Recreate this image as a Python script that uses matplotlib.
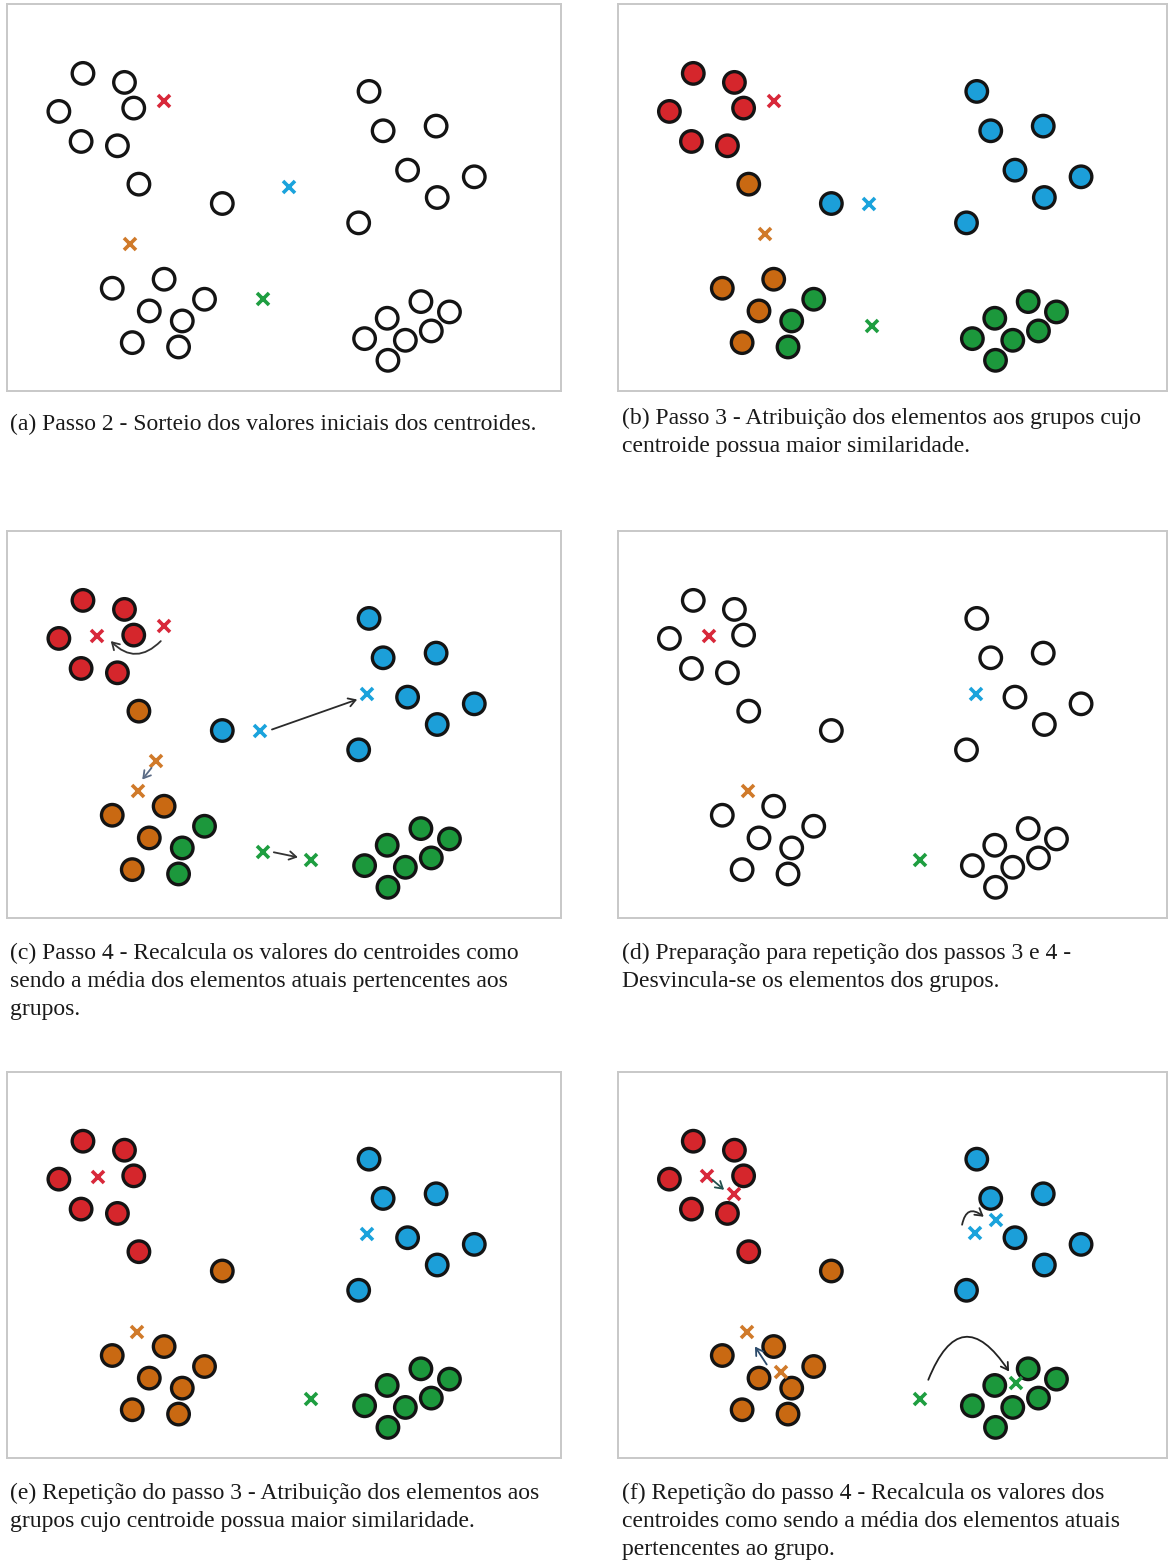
import matplotlib
matplotlib.use("Agg")
import matplotlib.pyplot as plt
from matplotlib.patches import FancyArrowPatch

W, H = 1169, 1560

# element positions (x right, y down, same frame in every panel)
elem_x = [225, 337, 160, 362, 220, 318, 376, 601,
          997, 1035, 1178, 1101, 1281, 1181, 969,
          304, 444, 404, 553, 493, 358, 483,
          1137, 1046, 1214, 1165, 1095, 985, 1048]
elem_y = [218, 245, 332, 322, 422, 435, 550, 608,
          272, 390, 376, 508, 528, 590, 666,
          862, 835, 930, 895, 960, 1025, 1038,
          902, 952, 933, 990, 1018, 1013, 1078]

# group of every element: 0 red, 1 blue, 2 orange, 3 green
groups_first = [0, 0, 0, 0, 0, 0, 2, 1,
                1, 1, 1, 1, 1, 1, 1,
                2, 2, 2, 3, 3, 2, 3,
                3, 3, 3, 3, 3, 3, 3]
groups_second = [0, 0, 0, 0, 0, 0, 0, 2,
                 1, 1, 1, 1, 1, 1, 1,
                 2, 2, 2, 2, 2, 2, 2,
                 3, 3, 3, 3, 3, 3, 3]

# centroids per panel, order red, blue, orange, green
cent_a = [(445, 300), (781, 560), (351, 730), (712, 893)]
cent_b = [(445, 300), (703, 610), (420, 700), (712, 975)]
cent_c_old = [(445, 295), (703, 608), (423, 700), (711, 972)]
cent_c_new = [(263, 325), (992, 500), (373, 788), (840, 995)]
cent_d = [(267, 325), (995, 498), (375, 790), (843, 995)]
cent_e = [(265, 325), (992, 497), (372, 790), (840, 993)]
cent_f_old = [(263, 323), (993, 495), (372, 790), (842, 993)]
cent_f_new = [(337, 377), (1050, 455), (465, 912), (1103, 945)]

# arrows: tail x, tail y, head x, head y, curvature
arrows_c = [(435, 340, 300, 340, -0.5), (735, 605, 965, 515, 0),
            (410, 720, 385, 755, 0), (740, 973, 805, 988, 0)]
arrows_f = [(277, 334, 309, 364, 0), (957, 469, 1016, 445, -0.8),
            (425, 889, 393, 835, 0), (865, 935, 1085, 910, -0.95)]

captions = [
    "(a) Passo 2 - Sorteio dos valores iniciais dos centroides.",
    "(b) Passo 3 - Atribuição dos elementos aos grupos cujo\ncentroide possua maior similaridade.",
    "(c) Passo 4 - Recalcula os valores do centroides como\nsendo a média dos elementos atuais pertencentes aos\ngrupos.",
    "(d) Preparação para repetição dos passos 3 e 4 -\nDesvincula-se os elementos dos grupos.",
    "(e) Repetição do passo 3 - Atribuição dos elementos aos\ngrupos cujo centroide possua maior similaridade.",
    "(f) Repetição do passo 4 - Recalcula os valores dos\ncentroides como sendo a média dos elementos atuais\npertencentes ao grupo.",
]

fill_cols = ['#d5262c', '#1c9fd9', '#c96912', '#1c983c']
cross_cols = ['#d8283a', '#1aa3dc', '#d07a2a', '#1e9e40']
arrow_cols_c = ['#333333', '#2a2a2a', '#5a6b85', '#333333']
arrow_cols_f = ['#23504d', '#2a2a2a', '#2b4a6a', '#222222']

fig = plt.figure(figsize=(W / 100, H / 100), dpi=100)


def panel(x0, y0, x1, y1):
    ax = fig.add_axes([x0 / W, 1 - y1 / H, (x1 - x0) / W, (y1 - y0) / H])
    ax.set_xlim(20, 1515)
    ax.set_ylim(1170, 10)
    ax.set_xticks([])
    ax.set_yticks([])
    for s in ax.spines.values():
        s.set_color('#c8c8c8')
        s.set_linewidth(1.4)
    return ax


def draw_elems(ax, groups=None):
    if groups is None:
        cols = ['white'] * len(elem_x)
    else:
        cols = [fill_cols[g] for g in groups]
    ax.scatter(elem_x, elem_y, s=15.5 ** 2, c=cols, edgecolors='#141414',
               linewidths=2.4, zorder=3)


def draw_cents(ax, cents):
    for i, (cx, cy) in enumerate(cents):
        ax.plot(cx, cy, 'x', ms=9, mew=2.6, color=cross_cols[i], zorder=4)


def draw_arrows(ax, arrows, cols):
    for (x0, y0, x1, y1, rad), col in zip(arrows, cols):
        a = FancyArrowPatch((x0, y0), (x1, y1), arrowstyle='->,head_length=5,head_width=3',
                            connectionstyle='arc3,rad=%s' % rad, color=col,
                            lw=1.3, shrinkA=0, shrinkB=0, zorder=5)
        ax.add_patch(a)


rows = [(4, 391), (531, 918), (1072, 1458)]
cols_x = [(7, 561), (618, 1167)]

ax_a = panel(cols_x[0][0], rows[0][0], cols_x[0][1], rows[0][1])
draw_elems(ax_a)
draw_cents(ax_a, cent_a)

ax_b = panel(cols_x[1][0], rows[0][0], cols_x[1][1], rows[0][1])
draw_elems(ax_b, groups_first)
draw_cents(ax_b, cent_b)

ax_c = panel(cols_x[0][0], rows[1][0], cols_x[0][1], rows[1][1])
draw_elems(ax_c, groups_first)
draw_cents(ax_c, cent_c_old)
draw_cents(ax_c, cent_c_new)
draw_arrows(ax_c, arrows_c, arrow_cols_c)

ax_d = panel(cols_x[1][0], rows[1][0], cols_x[1][1], rows[1][1])
draw_elems(ax_d)
draw_cents(ax_d, cent_d)

ax_e = panel(cols_x[0][0], rows[2][0], cols_x[0][1], rows[2][1])
draw_elems(ax_e, groups_second)
draw_cents(ax_e, cent_e)

ax_f = panel(cols_x[1][0], rows[2][0], cols_x[1][1], rows[2][1])
draw_elems(ax_f, groups_second)
draw_cents(ax_f, cent_f_old)
draw_cents(ax_f, cent_f_new)
draw_arrows(ax_f, arrows_f, arrow_cols_f)

# caption tops (pixels from the top)
cap_pos = [(10, 414), (622, 408), (10, 943), (622, 943), (10, 1483), (622, 1483)]
for (cx, cy), txt in zip(cap_pos, captions):
    fig.text(cx / W, 1 - cy / H, txt, fontsize=17, family='Liberation Serif',
             color='#1a1a1a', va='top', ha='left', linespacing=1.42)

fig.savefig('out.png', dpi=100, facecolor='white')
